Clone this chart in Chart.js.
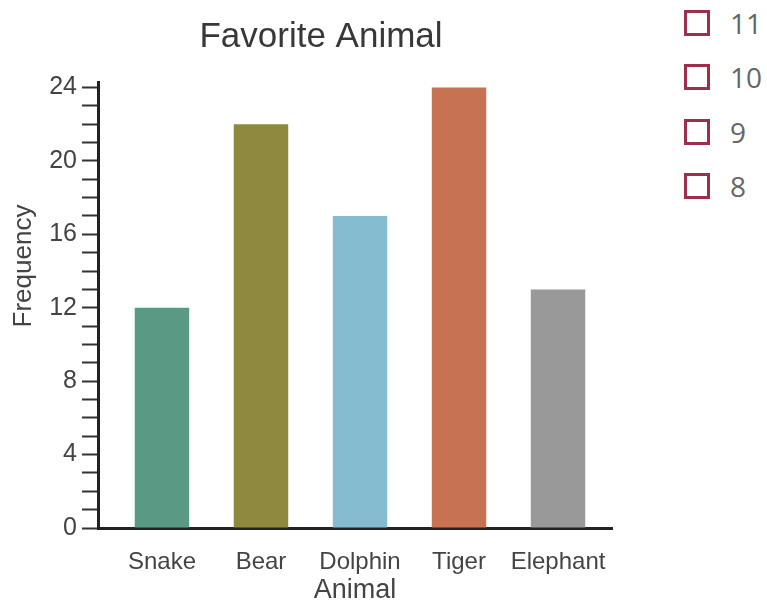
<!DOCTYPE html>
<html>
<head>
<meta charset="utf-8">
<title>Favorite Animal</title>
<script src="https://cdn.jsdelivr.net/npm/chart.js@4"></script>
<style>
  html, body { margin: 0; padding: 0; background: #ffffff; }
  body { width: 767px; height: 604px; position: relative; overflow: hidden; }
  #chart { position: absolute; left: 0; top: 0; }
  .choices { position: absolute; left: 684px; top: 10px; margin: 0; padding: 0; list-style: none; }
  .choices li { height: 26px; margin-bottom: 28.3px; display: flex; align-items: center; }
  .choices .box { width: 20px; height: 20px; border: 3px solid #9c2f4c; box-sizing: content-box; }
  .choices .txt { margin-left: 20px; font-family: "Open Sans", sans-serif; font-size: 28px; color: #666666; line-height: 26px; }
</style>
</head>
<body>
<canvas id="chart" width="642" height="604"></canvas>
<ul class="choices" id="choices"></ul>
<script>
// Survey results
const animals = ['Snake', 'Bear', 'Dolphin', 'Tiger', 'Elephant'];
const frequency = [12, 22, 17, 24, 13];
const barColors = ['#5a9983', '#8e893f', '#86bccf', '#c77353', '#999999'];

// Y axis: a tick at every whole count, labelled every fourth
const yTickValues = [0, 1, 2, 3, 4, 5, 6, 7, 8, 9, 10, 11, 12, 13, 14, 15, 16, 17, 18, 19, 20, 21, 22, 23, 24];
const yLabelled = [0, 4, 8, 12, 16, 20, 24];

// Answer choices listed beside the graph
const choiceLabels = ['11', '10', '9', '8'];

const choiceList = document.getElementById('choices');
choiceLabels.forEach(function (label) {
  const li = document.createElement('li');
  const box = document.createElement('span');
  box.className = 'box';
  const txt = document.createElement('span');
  txt.className = 'txt';
  txt.textContent = label;
  li.appendChild(box);
  li.appendChild(txt);
  choiceList.appendChild(li);
});

const FONT = '"Liberation Sans", Arial, Helvetica, sans-serif';

// Rotated y-axis caption, placed a little above the axis midpoint
const yCaption = {
  id: 'yCaption',
  afterDraw(chart) {
    const ctx = chart.ctx;
    ctx.save();
    ctx.translate(24, 266);
    ctx.rotate(-Math.PI / 2);
    ctx.font = '26px ' + FONT;
    ctx.fillStyle = '#444444';
    ctx.textAlign = 'center';
    ctx.textBaseline = 'middle';
    ctx.fillText('Frequency', 0, 0);
    ctx.restore();
  }
};

new Chart(document.getElementById('chart'), {
  type: 'bar',
  data: {
    datasets: [{
      data: animals.map((a, i) => ({ x: i, y: frequency[i] })),
      backgroundColor: barColors,
      borderWidth: 0,
      categoryPercentage: 1,
      barPercentage: 0.55
    }]
  },
  plugins: [yCaption],
  options: {
    responsive: false,
    animation: false,
    devicePixelRatio: 1,
    layout: { padding: { left: 30, right: 30, top: 0, bottom: 0 } },
    plugins: {
      legend: { display: false },
      tooltip: { enabled: false },
      title: {
        display: true,
        text: 'Favorite Animal',
        color: '#383838',
        font: { family: FONT, size: 35, weight: 'normal', lineHeight: 1.2 },
        padding: { top: 16, bottom: 24 }
      }
    },
    scales: {
      x: {
        type: 'linear',
        min: -0.646,
        max: 4.545,
        offset: false,
        afterBuildTicks(scale) {
          scale.ticks = animals.map((a, i) => ({ value: i }));
        },
        afterFit(scale) { scale.height = 76; },
        grid: { display: false, offset: false },
        border: { display: true, color: '#222222', width: 3 },
        ticks: {
          autoSkip: false,
          maxRotation: 0,
          padding: 12,
          color: '#444444',
          font: { family: FONT, size: 24 },
          callback: (v) => animals[v]
        },
        title: {
          display: true,
          text: 'Animal',
          color: '#444444',
          font: { family: FONT, size: 27, lineHeight: 1 },
          padding: { top: 0, bottom: 0 }
        }
      },
      y: {
        min: 0,
        max: 24.3,
        afterBuildTicks(scale) {
          scale.ticks = yTickValues.map((v) => ({ value: v }));
        },
        afterFit(scale) { scale.width = 68; },
        grid: {
          display: true,
          drawOnChartArea: false,
          drawTicks: true,
          tickLength: 16,
          tickWidth: 2,
          tickColor: '#333333'
        },
        border: { display: true, color: '#222222', width: 3 },
        ticks: {
          autoSkip: false,
          padding: 5,
          color: '#444444',
          font: { family: FONT, size: 25 },
          callback: (v) => (yLabelled.includes(v) ? String(v) : '')
        }
      }
    }
  }
});
</script>
</body>
</html>
